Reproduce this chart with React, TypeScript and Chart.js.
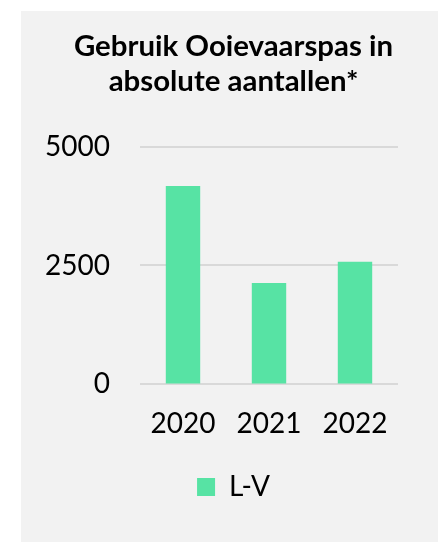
import React, { useEffect, useRef } from "react";
import { Chart, registerables } from "chart.js";

Chart.register(...registerables);

const titleLines = ["Gebruik Ooievaarspas in", "absolute aantallen*"];
const categories = ["2020", "2021", "2022"];
const seriesName = "L-V";
const seriesValues = [4170, 2130, 2580];
const yTickValues = [0, 2500, 5000];

const FONT = "Lato, 'Open Sans', sans-serif";

export default function App() {
  const canvasRef = useRef<HTMLCanvasElement>(null);

  useEffect(() => {
    if (!canvasRef.current) return;
    const chart = new Chart(canvasRef.current, {
      type: "bar",
      data: {
        labels: categories,
        datasets: [
          {
            label: seriesName,
            data: seriesValues,
            backgroundColor: "#57e3a4",
            borderWidth: 0,
            categoryPercentage: 1,
            barPercentage: 0.4,
          },
        ],
      },
      options: {
        animation: false,
        responsive: false,
        maintainAspectRatio: false,
        layout: { padding: { top: 0, left: 8, right: 0, bottom: 31 } },
        plugins: {
          title: {
            display: true,
            text: titleLines,
            color: "#000000",
            font: { family: FONT, size: 29.4, weight: "bold", lineHeight: 1.2 },
            padding: { top: 18, bottom: 47 },
          },
          legend: {
            display: true,
            position: "bottom",
            labels: {
              color: "#000000",
              boxWidth: 18,
              boxHeight: 18,
              padding: 9,
              font: { family: FONT, size: 28 },
            },
          },
          tooltip: { enabled: false },
        },
        scales: {
          x: {
            grid: { display: false, drawTicks: false },
            border: { display: false },
            ticks: {
              color: "#000000",
              font: { family: FONT, size: 28 },
              padding: 23,
              maxRotation: 0,
            },
          },
          y: {
            min: 0,
            max: 5000,
            afterBuildTicks: (scale: any) => {
              scale.ticks = yTickValues.map((v) => ({ value: v }));
            },
            afterFit: (scale: any) => {
              scale.width = 111;
            },
            grid: { color: "#d9d9d9", lineWidth: 2, drawTicks: false },
            border: { display: false },
            ticks: {
              color: "#000000",
              font: { family: FONT, size: 28 },
              padding: 30,
              callback: (value: any) => String(value),
            },
          },
          yRight: {
            position: "right",
            display: true,
            grid: { display: false, drawTicks: false },
            border: { display: false },
            ticks: { display: false },
            afterFit: (scale: any) => {
              scale.width = 40;
            },
          },
        },
      },
    });
    return () => chart.destroy();
  }, []);

  return (
    <div
      style={{
        position: "absolute",
        left: 21,
        top: 11,
        width: 417,
        height: 531,
        background: "#f2f2f2",
      }}
    >
      <canvas
        ref={canvasRef}
        width={417}
        height={531}
        style={{ display: "block", width: 417, height: 531 }}
      />
    </div>
  );
}
